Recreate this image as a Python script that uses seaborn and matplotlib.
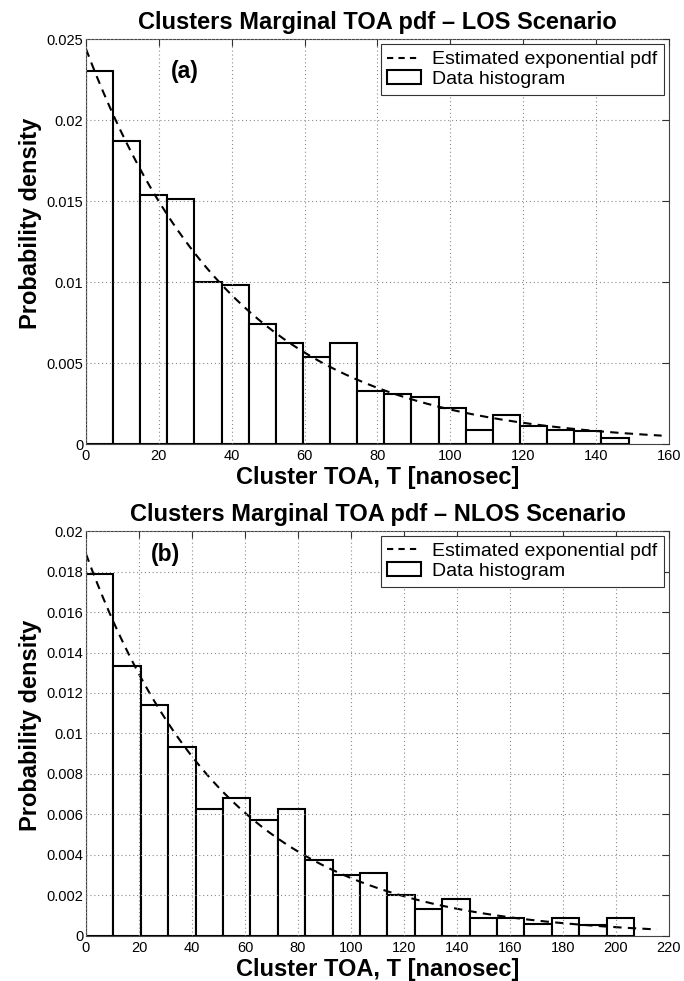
import numpy as np
import pandas as pd
import matplotlib
matplotlib.use("Agg")
import matplotlib.pyplot as plt
from matplotlib.lines import Line2D
from matplotlib.patches import Patch
import seaborn as sns

# ---------------- data ----------------
# (a) LOS scenario: 20 equal-width bins from 0 to the largest TOA
los_toa_max = 148.9
los_density = [0.0230, 0.0187, 0.01535, 0.01515, 0.0100, 0.0098, 0.00743, 0.00624,
               0.00537, 0.00624, 0.00329, 0.00309, 0.00290, 0.00224, 0.00086,
               0.00177, 0.00109, 0.00086, 0.00078, 0.00039]
los_mean_toa = 41.0          # estimated exponential mean (ns)
los_curve_end = 158.0

# (b) NLOS scenario
nlos_toa_max = 206.8
nlos_density = [0.0179, 0.01333, 0.0114, 0.00933, 0.00629, 0.00681, 0.00571, 0.00629,
                0.00374, 0.00300, 0.00312, 0.00202, 0.00135, 0.00181, 0.00090,
                0.00090, 0.00061, 0.00090, 0.00053, 0.00090]
nlos_mean_toa = 53.0
nlos_curve_end = 215.5

titles = ["Clusters Marginal TOA pdf \u2013 LOS Scenario",
          "Clusters Marginal TOA pdf \u2013 NLOS Scenario"]
panel_tags = ["(a)", "(b)"]
xlabel = "Cluster TOA, T [nanosec]"
ylabel = "Probability density"
legend_labels = ["Estimated exponential pdf", "Data histogram"]
x_ticks = [list(range(0, 161, 20)), list(range(0, 221, 20))]
y_ticks = [[0, 0.005, 0.01, 0.015, 0.02, 0.025],
           [0, 0.002, 0.004, 0.006, 0.008, 0.01, 0.012, 0.014, 0.016, 0.018, 0.02]]

# ---------------- style ----------------
sns.set_style("white")
plt.rcParams["font.family"] = ["Liberation Sans", "DejaVu Sans"]
plt.rcParams["text.color"] = "black"
plt.rcParams["axes.labelcolor"] = "black"
plt.rcParams["xtick.color"] = "black"
plt.rcParams["ytick.color"] = "black"

fig = plt.figure(figsize=(6.84, 9.81), dpi=100)
ax_a = fig.add_axes([0.1257, 0.5474, 0.8523, 0.4128])
ax_b = fig.add_axes([0.1257, 0.0459, 0.8523, 0.4128])

panels = [
    (ax_a, los_toa_max, los_density, los_mean_toa, los_curve_end, (0, 160), (0, 0.025), (27, 0.0230), 0.545),
    (ax_b, nlos_toa_max, nlos_density, nlos_mean_toa, nlos_curve_end, (0, 220), (0, 0.02), (30, 0.01886), 0.52),
]

for i, (ax, tmax, dens, mean_t, cend, xlim, ylim, tagpos, ylab_y) in enumerate(panels):
    edges = np.linspace(0, tmax, len(dens) + 1)
    centers = (edges[:-1] + edges[1:]) / 2
    hist_df = pd.DataFrame({"toa": centers, "density": dens})
    sns.histplot(data=hist_df, x="toa", weights="density", bins=list(edges),
                 stat="count", color="white", edgecolor="black", linewidth=1.5,
                 alpha=1, ax=ax, zorder=1)
    t = np.linspace(0, cend, 300)
    curve_df = pd.DataFrame({"t": t, "pdf": np.exp(-t / mean_t) / mean_t})
    sns.lineplot(data=curve_df, x="t", y="pdf", color="black", linestyle=(0, (4, 3)),
                 linewidth=1.5, ax=ax, zorder=2)

    ax.set_xlim(*xlim)
    ax.set_ylim(*ylim)
    ax.set_xticks(x_ticks[i])
    ax.set_yticks(y_ticks[i])
    ax.set_yticklabels([f"{v:g}" for v in y_ticks[i]])
    ax.tick_params(direction="in", top=True, right=True, length=5, width=0.8,
                   labelsize=10.5, color="#333333", labelcolor="black")
    ax.tick_params(axis="x", pad=3.5)
    ax.tick_params(axis="y", pad=2)
    ax.grid(True, linestyle=(0, (1, 2.5)), color="#8a8a8a", linewidth=0.8)
    ax.set_axisbelow(False)
    for sp in ax.spines.values():
        sp.set_color("#444444")
        sp.set_linewidth(0.8)

    ax.set_title(titles[i], fontsize=17, fontweight="bold", pad=7, color="black")
    ax.set_xlabel(xlabel, fontsize=17, fontweight="bold", color="black")
    ax.set_ylabel(ylabel, fontsize=17, fontweight="bold", color="black")
    ax.xaxis.set_label_coords(0.5, -0.055)
    ax.yaxis.set_label_coords(-0.0755, ylab_y)
    ax.text(tagpos[0], tagpos[1], panel_tags[i], fontsize=16.5, fontweight="bold",
            ha="center", va="center", color="black")

    handles = [Line2D([], [], color="black", linestyle=(0, (3, 2.5)), linewidth=1.5),
               Patch(facecolor="white", edgecolor="black", linewidth=1.5)]
    leg = ax.legend(handles=handles, labels=legend_labels, loc="upper right",
                    fontsize=14, fancybox=False, framealpha=1, edgecolor="#333333",
                    borderaxespad=0.25, handlelength=1.75, handletextpad=0.55,
                    borderpad=0.35, labelspacing=0.1)
    leg.get_frame().set_linewidth(0.8)
    for txt in leg.get_texts():
        txt.set_color("black")
    leg.set_zorder(5)

fig.savefig("out.png", dpi=100)
